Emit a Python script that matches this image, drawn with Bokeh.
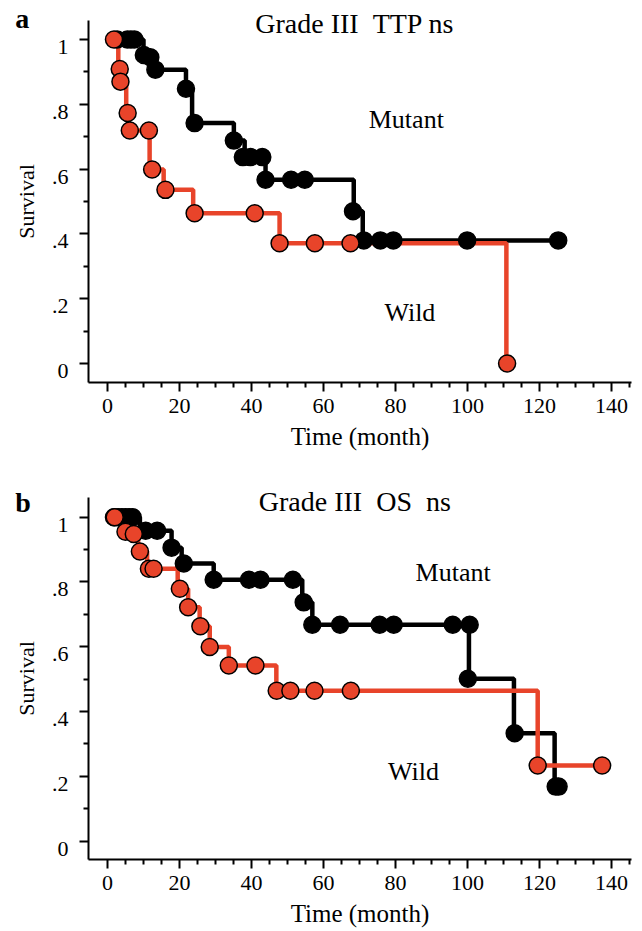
from bokeh.plotting import figure
from bokeh.models import FixedTicker, Label, Range1d
from bokeh.layouts import column
from bokeh.embed import file_html
from bokeh.resources import INLINE

# ---------------- data ----------------
x_ticks = [0, 20, 40, 60, 80, 100, 120, 140]
x_minor = [5, 10, 15, 25, 30, 35, 45, 50, 55, 65, 70, 75, 85, 90, 95,
           105, 110, 115, 125, 130, 135, 145]
y_ticks = [0.0, 0.2, 0.4, 0.6, 0.8, 1.0]
y_tick_labels = ["0", ".2", ".4", ".6", ".8", "1"]
y_minor = [0.1, 0.3, 0.5, 0.7, 0.9]

# Panel a : Grade III TTP
a_mut_t = [2.7, 10.0, 13.0, 21.8, 23.5, 35.1, 38.1, 43.9, 68.4, 70.9, 125.2]
a_mut_s = [1.0, 0.952, 0.907, 0.848, 0.742, 0.688, 0.637, 0.567, 0.470, 0.380, 0.380]
a_mut_mark_t = [2.7, 5.5, 6.5, 7.5, 10.1, 11.9, 13.3, 21.8, 24.2, 35.1, 37.6, 39.7,
                43.0, 43.9, 51.0, 54.8, 68.2, 71.2, 75.8, 79.4, 99.9, 125.2]
a_mut_mark_s = [1.0, 1.0, 1.0, 1.0, 0.952, 0.945, 0.907, 0.848, 0.742, 0.688, 0.637, 0.637,
                0.637, 0.567, 0.567, 0.567, 0.470, 0.380, 0.380, 0.380, 0.380, 0.380]

a_wild_t = [1.8, 3.0, 3.3, 5.2, 5.9, 11.7, 15.6, 23.8, 47.8, 110.8]
a_wild_s = [1.0, 0.909, 0.870, 0.773, 0.719, 0.599, 0.536, 0.464, 0.371, 0.0]
a_wild_mark_t = [1.8, 3.4, 3.6, 5.6, 6.2, 11.5, 12.4, 16.1, 24.2, 40.9, 47.8, 57.6, 67.5, 111.0]
a_wild_mark_s = [1.0, 0.909, 0.870, 0.773, 0.719, 0.719, 0.599, 0.536, 0.464, 0.464,
                 0.371, 0.371, 0.371, 0.0]

# Panel b : Grade III OS
b_mut_t = [1.5, 9.0, 17.8, 20.6, 29.5, 54.1, 56.9, 100.4, 112.9, 124.2, 125.3]
b_mut_s = [1.0, 0.958, 0.906, 0.857, 0.807, 0.737, 0.668, 0.501, 0.333, 0.168, 0.168]
b_mut_mark_t = [1.8, 3.0, 4.0, 5.0, 6.0, 7.0, 10.6, 13.8, 17.8, 21.2, 29.5, 39.3, 42.5,
                51.5, 54.5, 56.9, 64.6, 75.6, 79.5, 95.9, 100.6, 100.1, 113.1, 124.5, 125.3]
b_mut_mark_s = [1.0, 1.0, 1.0, 1.0, 1.0, 1.0, 0.958, 0.958, 0.906, 0.857, 0.807, 0.807, 0.807,
                0.807, 0.737, 0.668, 0.668, 0.668, 0.668, 0.668, 0.668, 0.501, 0.333, 0.168, 0.168]

b_wild_t = [1.5, 4.5, 7.0, 8.5, 11.0, 19.5, 22.4, 25.6, 28.4, 33.7, 46.9, 119.5, 137.4]
b_wild_s = [1.0, 0.955, 0.948, 0.894, 0.841, 0.779, 0.722, 0.663, 0.599, 0.542, 0.464, 0.233, 0.233]
b_wild_mark_t = [2.0, 5.0, 7.3, 9.0, 11.5, 12.8, 20.1, 22.4, 25.8, 28.4, 33.7, 41.1, 47.0,
                 50.8, 57.5, 67.6, 119.5, 137.4]
b_wild_mark_s = [1.0, 0.955, 0.948, 0.894, 0.841, 0.841, 0.779, 0.722, 0.663, 0.599, 0.542,
                 0.542, 0.464, 0.464, 0.464, 0.464, 0.233, 0.233]

RED = "#E8442A"
FONT = "Liberation Serif"
X_AXIS_BOUNDS = (-5.28, 145.55)


def make_panel(height, x_range, y_range, y_bounds, letter, title, mut, wild,
               mut_lbl, wild_lbl, letter_y, title_y):
    p = figure(width=642, height=height, output_backend="svg", toolbar_location=None,
               x_range=Range1d(*x_range), y_range=Range1d(*y_range), min_border=0)
    p.grid.visible = False
    p.outline_line_color = None
    p.background_fill_color = "white"
    p.border_fill_color = "white"

    for ax in (p.xaxis[0], p.yaxis[0]):
        ax.axis_line_width = 2
        ax.major_tick_line_width = 2
        ax.minor_tick_line_width = 2
        ax.major_tick_in = 0
        ax.major_tick_out = 9
        ax.minor_tick_in = 0
        ax.minor_tick_out = 5
        ax.major_label_text_font = FONT
        ax.major_label_text_font_size = "22px"
        ax.major_label_text_color = "black"
        ax.axis_label_text_font = FONT
        ax.axis_label_text_font_style = "normal"
        ax.axis_label_text_color = "black"

    p.xaxis.fixed_location = y_bounds[0]
    p.xaxis.bounds = X_AXIS_BOUNDS
    p.xaxis.ticker = FixedTicker(ticks=x_ticks, minor_ticks=x_minor)
    p.xaxis.major_label_standoff = 8
    p.xaxis.axis_label = "Time (month)"
    p.xaxis.axis_label_text_font_size = "25px"
    p.xaxis.axis_label_standoff = 6

    p.yaxis.fixed_location = X_AXIS_BOUNDS[0]
    p.yaxis.bounds = y_bounds
    p.yaxis.ticker = FixedTicker(ticks=y_ticks, minor_ticks=y_minor)
    p.yaxis.major_label_overrides = dict(zip(y_ticks, y_tick_labels))
    p.yaxis.major_label_text_alpha = 0
    p.yaxis.axis_label = "Survival"
    p.yaxis.axis_label_text_font_size = "22px"
    p.yaxis.axis_label_standoff = 41

    # y tick labels, drawn slightly below their ticks as in the original
    for v, t in zip(y_ticks, y_tick_labels):
        p.add_layout(Label(x=X_AXIS_BOUNDS[0], x_offset=-20, y=v, y_offset=-7.5, text=t,
                           text_font=FONT, text_font_size="22px", text_color="black",
                           text_align="right", text_baseline="middle"))

    (mt, ms, mmt, mms), (wt, ws, wmt, wms) = mut, wild
    p.step(mt, ms, mode="after", line_color="black", line_width=4.5)
    p.step(wt, ws, mode="after", line_color=RED, line_width=4.5)
    p.scatter(mmt, mms, size=17, fill_color="black", line_color="black", line_width=1.5)
    p.scatter(wmt, wms, size=17, fill_color=RED, line_color="black", line_width=1.5)

    p.add_layout(Label(x=-25.6, y=letter_y, text=letter, text_font=FONT,
                       text_font_size="28px", text_font_style="bold", text_color="black",
                       text_align="left", text_baseline="middle"))
    p.add_layout(Label(x=68.7, y=title_y, text=title, text_font=FONT,
                       text_font_size="28px", text_align="center", text_color="black",
                       text_baseline="middle"))
    for (tx, ty, tt) in (mut_lbl, wild_lbl):
        p.add_layout(Label(x=tx, y=ty, text=tt, text_font=FONT, text_font_size="26px",
                           text_color="black", text_align="center",
                           text_baseline="middle"))
    return p


p1 = make_panel(473, (-29.72, 148.61), (-0.3395, 1.1204), (-0.0586, 1.059),
                "a", "Grade III\u00a0\u00a0TTP ns",
                (a_mut_t, a_mut_s, a_mut_mark_t, a_mut_mark_s),
                (a_wild_t, a_wild_s, a_wild_mark_t, a_wild_mark_s),
                (83.0, 0.753, "Mutant"), (84.0, 0.157, "Wild"), 1.066, 1.049)
p2 = make_panel(458, (-29.72, 148.61), (-0.2795, 1.135), (-0.057, 1.061),
                "b", "Grade III\u00a0\u00a0OS\u00a0\u00a0ns",
                (b_mut_t, b_mut_s, b_mut_mark_t, b_mut_mark_s),
                (b_wild_t, b_wild_s, b_wild_mark_t, b_wild_mark_s),
                (96.0, 0.829, "Mutant"), (85.0, 0.215, "Wild"), 1.045, 1.048)

layout = column(p1, p2)
open("out.html", "w").write(file_html(layout, INLINE))
